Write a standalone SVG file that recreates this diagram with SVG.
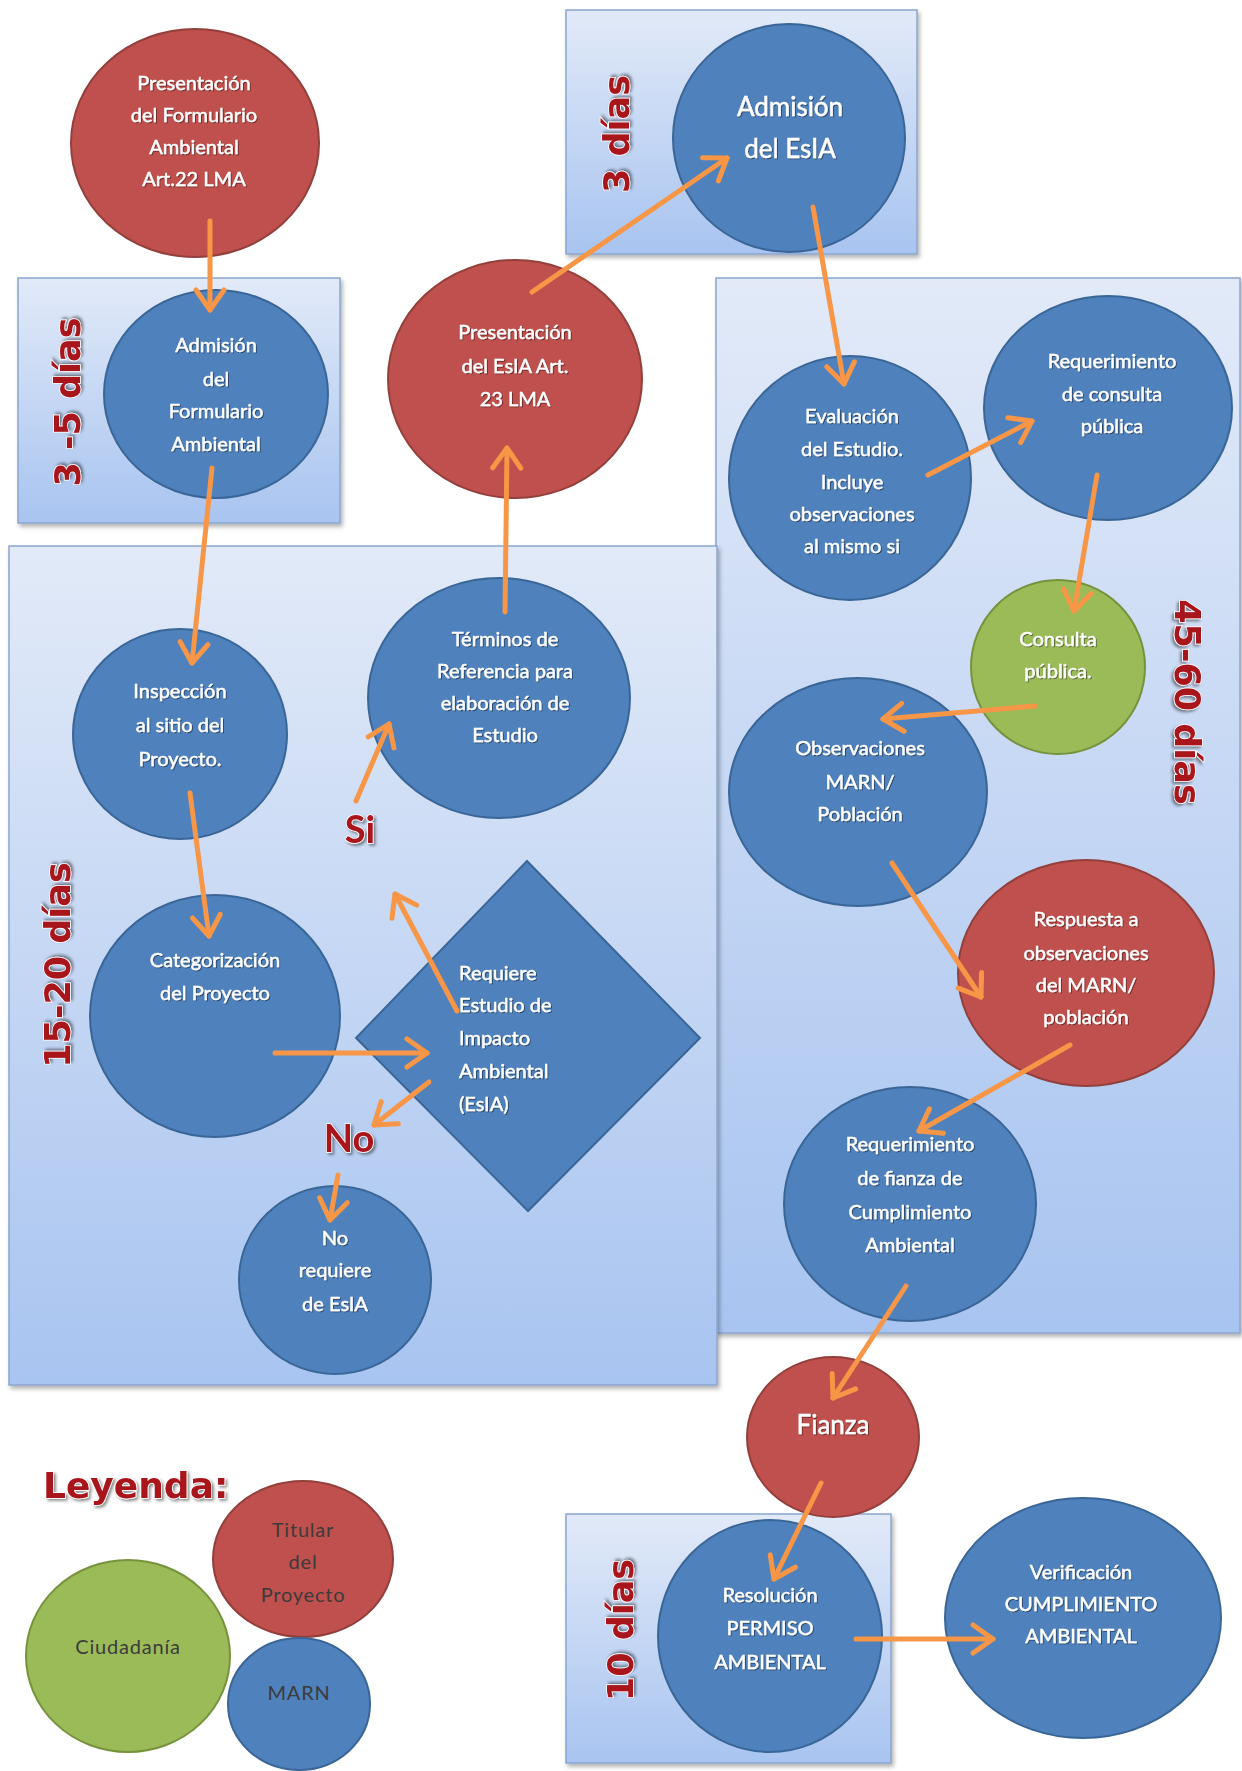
<svg xmlns="http://www.w3.org/2000/svg" width="1242" height="1771" viewBox="0 0 1242 1771">
<defs>
<linearGradient id="boxg" x1="0" y1="0" x2="0" y2="1">
<stop offset="0" stop-color="#e2eaf8"/>
<stop offset="1" stop-color="#a8c4f0"/>
</linearGradient>
<filter id="sh" x="-5%" y="-5%" width="115%" height="115%">
<feDropShadow dx="2" dy="3" stdDeviation="2" flood-color="#000" flood-opacity="0.3"/>
</filter>
<filter id="tsh" x="-10%" y="-10%" width="130%" height="140%">
<feDropShadow dx="1" dy="1" stdDeviation="0.6" flood-color="#000" flood-opacity="0.45"/>
</filter>
<filter id="lsh" x="-10%" y="-10%" width="130%" height="130%">
<feDropShadow dx="2" dy="2" stdDeviation="1.5" flood-color="#000" flood-opacity="0.45"/>
</filter>
<marker id="ah" markerUnits="userSpaceOnUse" markerWidth="40" markerHeight="40" viewBox="-26 -20 32 40" refX="0" refY="0" orient="auto">
<path d="M-20,-14 L0,0 L-20,14" fill="none" stroke="#f79646" stroke-width="5" stroke-linecap="round" stroke-linejoin="round"/>
</marker>
<style>
.box{fill:url(#boxg);stroke:#8ba6cf;stroke-width:1.5;filter:url(#sh)}
.blue{fill:#4f81bd;stroke:#3a6697;stroke-width:2}
.red{fill:#c0504d;stroke:#93403d;stroke-width:2}
.green{fill:#9bbb59;stroke:#76923c;stroke-width:2}
.t{font-family:Lato,"Open Sans",sans-serif;font-size:20px;fill:#fff;stroke:#fff;stroke-width:0.45px;text-anchor:middle;filter:url(#tsh)}
.tl{text-anchor:start}
.big{font-size:26px}
.lg{font-family:Lato,"Open Sans",sans-serif;font-size:20px;fill:#3b3b3b;text-anchor:middle;letter-spacing:0.8px}
.dur{font-family:"DejaVu Sans",Verdana,sans-serif;font-weight:bold;font-size:35px;fill:#a8141c;stroke:#fff;stroke-width:1.5;paint-order:stroke;text-anchor:middle;filter:url(#lsh)}
.yn{font-family:Lato,"DejaVu Sans",sans-serif;font-weight:bold;font-size:38px;fill:#a8141c;stroke:#fff;stroke-width:1.5;paint-order:stroke;text-anchor:middle;filter:url(#lsh)}
.arr{stroke:#f79646;stroke-width:5;fill:none;stroke-linecap:round;marker-end:url(#ah)}
</style>
</defs>
<rect width="1242" height="1771" fill="#fff"/>

<g id="boxes">
<rect id="box-3dias" class="box" x="566" y="10" width="351" height="244"/>
<rect id="box-3-5dias" class="box" x="18" y="278" width="322" height="245"/>
<rect id="box-45-60dias" class="box" x="716" y="278" width="524" height="1055"/>
<rect id="box-15-20dias" class="box" x="9" y="546" width="708" height="839"/>
<rect id="box-10dias" class="box" x="566" y="1514" width="325" height="249"/>
</g>

<g id="n-presentacion-formulario">
<ellipse class="red" cx="195" cy="143" rx="124" ry="114"/>
<text class="t"><tspan x="194" y="90">Presentación</tspan><tspan x="194" y="122">del Formulario</tspan><tspan x="194" y="154">Ambiental</tspan><tspan x="194" y="186">Art.22 LMA</tspan></text>
</g>
<g id="n-admision-formulario">
<ellipse class="blue" cx="216" cy="394" rx="112" ry="104"/>
<text class="t"><tspan x="216" y="352">Admisión</tspan><tspan x="216" y="386">del</tspan><tspan x="216" y="418">Formulario</tspan><tspan x="216" y="451">Ambiental</tspan></text>
</g>
<g id="n-presentacion-esia">
<ellipse class="red" cx="515" cy="379" rx="127" ry="119"/>
<text class="t"><tspan x="515" y="339">Presentación</tspan><tspan x="515" y="373">del EsIA Art.</tspan><tspan x="515" y="406">23 LMA</tspan></text>
</g>
<g id="n-admision-esia">
<ellipse class="blue" cx="789" cy="138" rx="116" ry="114"/>
<text class="t big"><tspan x="790" y="116">Admisión</tspan><tspan x="790" y="158">del EsIA</tspan></text>
</g>
<g id="n-evaluacion">
<ellipse class="blue" cx="850" cy="478" rx="121" ry="122"/>
<text class="t"><tspan x="852" y="423">Evaluación</tspan><tspan x="852" y="456">del Estudio.</tspan><tspan x="852" y="489">Incluye</tspan><tspan x="852" y="521">observaciones</tspan><tspan x="852" y="553">al mismo si</tspan></text>
</g>
<g id="n-req-consulta">
<ellipse class="blue" cx="1108" cy="408" rx="124" ry="112"/>
<text class="t"><tspan x="1112" y="368">Requerimiento</tspan><tspan x="1112" y="401">de consulta</tspan><tspan x="1112" y="433">pública</tspan></text>
</g>
<g id="n-consulta">
<ellipse class="green" cx="1058" cy="667" rx="87" ry="87"/>
<text class="t"><tspan x="1058" y="646">Consulta</tspan><tspan x="1058" y="678">pública.</tspan></text>
</g>
<g id="n-observaciones">
<ellipse class="blue" cx="858" cy="792" rx="129" ry="114"/>
<text class="t"><tspan x="860" y="755">Observaciones</tspan><tspan x="860" y="789">MARN/</tspan><tspan x="860" y="821">Población</tspan></text>
</g>
<g id="n-respuesta">
<ellipse class="red" cx="1086" cy="973" rx="128" ry="113"/>
<text class="t"><tspan x="1086" y="926">Respuesta a</tspan><tspan x="1086" y="960">observaciones</tspan><tspan x="1086" y="992">del MARN/</tspan><tspan x="1086" y="1024">población</tspan></text>
</g>
<g id="n-req-fianza">
<ellipse class="blue" cx="910" cy="1204" rx="126" ry="117"/>
<text class="t"><tspan x="910" y="1151">Requerimiento</tspan><tspan x="910" y="1185">de fianza de</tspan><tspan x="910" y="1219">Cumplimiento</tspan><tspan x="910" y="1252">Ambiental</tspan></text>
</g>
<g id="n-fianza">
<ellipse class="red" cx="833" cy="1437" rx="86" ry="80"/>
<text class="t big" x="833" y="1434">Fianza</text>
</g>
<g id="n-resolucion">
<ellipse class="blue" cx="770" cy="1636" rx="112" ry="116"/>
<text class="t"><tspan x="770" y="1602">Resolución</tspan><tspan x="770" y="1635">PERMISO</tspan><tspan x="770" y="1669">AMBIENTAL</tspan></text>
</g>
<g id="n-verificacion">
<ellipse class="blue" cx="1083" cy="1618" rx="138" ry="120"/>
<text class="t"><tspan x="1081" y="1579">Verificación</tspan><tspan x="1081" y="1611">CUMPLIMIENTO</tspan><tspan x="1081" y="1643">AMBIENTAL</tspan></text>
</g>
<g id="n-inspeccion">
<ellipse class="blue" cx="180" cy="734" rx="107" ry="105"/>
<text class="t"><tspan x="180" y="698">Inspección</tspan><tspan x="180" y="732">al sitio del</tspan><tspan x="180" y="766">Proyecto.</tspan></text>
</g>
<g id="n-terminos">
<ellipse class="blue" cx="499" cy="698" rx="131" ry="120"/>
<text class="t"><tspan x="505" y="646">Términos de</tspan><tspan x="505" y="678">Referencia para</tspan><tspan x="505" y="710">elaboración de</tspan><tspan x="505" y="742">Estudio</tspan></text>
</g>
<g id="n-categorizacion">
<ellipse class="blue" cx="215" cy="1016" rx="125" ry="121"/>
<text class="t"><tspan x="215" y="967">Categorización</tspan><tspan x="215" y="1000">del Proyecto</tspan></text>
</g>
<g id="n-requiere">
<polygon class="blue" points="527,861 700,1038 528,1211 356,1038"/>
<text class="t tl"><tspan x="459" y="980">Requiere</tspan><tspan x="459" y="1012">Estudio de</tspan><tspan x="459" y="1045">Impacto</tspan><tspan x="459" y="1078">Ambiental</tspan><tspan x="459" y="1111">(EsIA)</tspan></text>
</g>
<g id="n-no-requiere">
<ellipse class="blue" cx="335" cy="1280" rx="96" ry="94"/>
<text class="t"><tspan x="335" y="1245">No</tspan><tspan x="335" y="1277">requiere</tspan><tspan x="335" y="1311">de EsIA</tspan></text>
</g>

<g id="connectors">
<line class="arr" x1="210" y1="221" x2="210" y2="310"/>
<line class="arr" x1="212" y1="468" x2="192" y2="663"/>
<line class="arr" x1="190" y1="793" x2="209" y2="936"/>
<line class="arr" x1="275" y1="1053" x2="427" y2="1053"/>
<line class="arr" x1="457" y1="1011" x2="395" y2="894"/>
<line class="arr" x1="356" y1="801" x2="389" y2="724"/>
<line class="arr" x1="429" y1="1082" x2="374" y2="1125"/>
<line class="arr" x1="338" y1="1175" x2="330" y2="1220"/>
<line class="arr" x1="505" y1="612" x2="507" y2="448"/>
<line class="arr" x1="532" y1="292" x2="727" y2="158"/>
<line class="arr" x1="813" y1="207" x2="844" y2="384"/>
<line class="arr" x1="928" y1="475" x2="1032" y2="421"/>
<line class="arr" x1="1097" y1="475" x2="1074" y2="611"/>
<line class="arr" x1="1035" y1="706" x2="883" y2="719"/>
<line class="arr" x1="892" y1="863" x2="981" y2="997"/>
<line class="arr" x1="1070" y1="1045" x2="919" y2="1131"/>
<line class="arr" x1="906" y1="1286" x2="833" y2="1398"/>
<line class="arr" x1="821" y1="1483" x2="774" y2="1579"/>
<line class="arr" x1="856" y1="1639" x2="993" y2="1639"/>
</g>

<g id="labels">
<text class="yn" x="360" y="843">Si</text>
<text class="yn" x="349" y="1152">No</text>
<text class="dur" transform="translate(629,134) rotate(-90)">3 días</text>
<text class="dur" transform="translate(80,402) rotate(-90)">3 -5 días</text>
<text class="dur" transform="translate(70,965) rotate(-90)">15-20 días</text>
<text class="dur" transform="translate(1175,702) rotate(90)">45-60 días</text>
<text class="dur" transform="translate(633,1630) rotate(-90)">10 días</text>
</g>

<g id="legend">
<text class="dur" style="text-anchor:start;font-size:36px" x="43" y="1498">Leyenda:</text>
<g id="lg-titular">
<ellipse class="red" cx="303" cy="1559" rx="90" ry="78"/>
<text class="lg"><tspan x="303" y="1537">Titular</tspan><tspan x="303" y="1569">del</tspan><tspan x="303" y="1602">Proyecto</tspan></text>
</g>
<g id="lg-ciudadania">
<ellipse class="green" cx="128" cy="1656" rx="102" ry="96"/>
<text class="lg" x="128" y="1654">Ciudadanía</text>
</g>
<g id="lg-marn">
<ellipse class="blue" cx="299" cy="1704" rx="71" ry="66"/>
<text class="lg" x="299" y="1700">MARN</text>
</g>
</g>
</svg>
